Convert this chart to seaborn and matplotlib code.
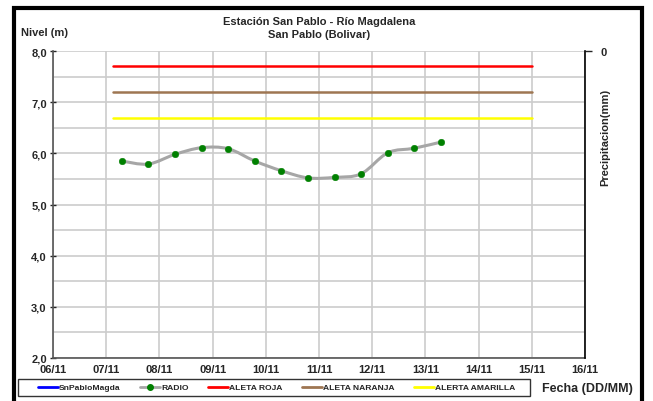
import matplotlib
matplotlib.use("Agg")
import matplotlib.pyplot as plt
import matplotlib.dates as mdates
from matplotlib.path import Path
from matplotlib.patches import PathPatch, Rectangle
from matplotlib.lines import Line2D
from matplotlib.ticker import FuncFormatter, MultipleLocator
import seaborn as sns
import pandas as pd
import numpy as np

# Datos
radio_fechas = pd.date_range("2010-11-07 07:00", periods=13, freq="12h")
radio_nivel = [5.85, 5.79, 5.98, 6.11, 6.09, 5.85, 5.66, 5.52, 5.53, 5.60, 6.01, 6.10, 6.22]

alerta_inicio = pd.Timestamp("2010-11-07 03:00")
alerta_fin = pd.Timestamp("2010-11-15 00:00")
alerta_nombres = ["ALETA ROJA", "ALETA NARANJA", "ALERTA AMARILLA"]
alerta_valores = [7.7, 7.2, 6.7]
alerta_colores = ["#ff0000", "#9e7652", "#ffff00"]

sns.set_style("white")
plt.rcParams["font.family"] = ["Liberation Sans", "DejaVu Sans"]
plt.rcParams["font.weight"] = "bold"

fig = plt.figure(figsize=(6.53, 4.02), dpi=100)
ax = fig.add_axes([53 / 653, 1 - 359 / 402, 532 / 653, 307 / 402])

# Rejilla
ax.yaxis.set_minor_locator(MultipleLocator(0.5))
ax.grid(True, which="both", axis="y", color="#cccccc", lw=1.2)
ax.grid(True, which="major", axis="x", color="#cccccc", lw=1.2)
ax.set_axisbelow(True)

# Niveles de alerta
df_alertas = pd.DataFrame({
    "fecha": [alerta_inicio, alerta_fin] * 3,
    "nivel": np.repeat(alerta_valores, 2),
    "serie": np.repeat(alerta_nombres, 2),
})
sns.lineplot(data=df_alertas, x="fecha", y="nivel", hue="serie",
             palette=dict(zip(alerta_nombres, alerta_colores)),
             lw=1.8, legend=False, ax=ax)

# Linea suavizada (estilo Excel) con curvas de Bezier
xs = mdates.date2num(radio_fechas)
ys = np.array(radio_nivel)
verts = [(xs[0], ys[0])]
codes = [Path.MOVETO]
n = len(xs)
for i in range(n - 1):
    x0, y0 = (xs[i - 1], ys[i - 1]) if i > 0 else (xs[i], ys[i])
    x3, y3 = (xs[i + 2], ys[i + 2]) if i + 2 < n else (xs[i + 1], ys[i + 1])
    c1 = (xs[i] + (xs[i + 1] - x0) / 6, ys[i] + (ys[i + 1] - y0) / 6)
    c2 = (xs[i + 1] - (x3 - xs[i]) / 6, ys[i + 1] - (y3 - ys[i]) / 6)
    verts += [c1, c2, (xs[i + 1], ys[i + 1])]
    codes += [Path.CURVE4] * 3
ax.add_patch(PathPatch(Path(verts, codes), fill=False, edgecolor="#a6a6a6", lw=2.2, zorder=3))

sns.scatterplot(x=radio_fechas, y=radio_nivel, color="#008000", s=22,
                edgecolor="#008000", zorder=4, ax=ax)

# Ejes
ax.set_xlim(pd.Timestamp("2010-11-06"), pd.Timestamp("2010-11-16"))
ax.set_ylim(2, 8)
ax.xaxis.set_major_locator(mdates.DayLocator())
ax.xaxis.set_major_formatter(mdates.DateFormatter("%d/%m"))
ax.yaxis.set_major_locator(MultipleLocator(1))
ax.yaxis.set_major_formatter(FuncFormatter(lambda v, p: f"{v:.1f}".replace(".", ",")))
ax.tick_params(axis="both", which="major", labelsize=8, length=5, width=1, direction="inout", pad=2)
ax.tick_params(axis="y", which="minor", length=0)
for lab in ax.get_xticklabels() + ax.get_yticklabels():
    lab.set_fontweight("bold")
ax.set_xlabel("")
ax.set_ylabel("")
for s in ["left", "bottom"]:
    ax.spines[s].set_color("#555555")
    ax.spines[s].set_linewidth(1.2)
ax.spines["top"].set_visible(False)
ax.spines["right"].set_visible(False)

# Eje secundario (precipitacion)
ax2 = ax.twinx()
ax2.set_ylim(1, 0)
ax2.set_yticks([0])
ax2.set_yticklabels(["0"], fontweight="bold", fontsize=8)
ax2.tick_params(axis="y", length=5, width=1, pad=6)
ax2.spines["right"].set_color("#000000")
ax2.spines["right"].set_linewidth(1.2)
for s in ["left", "bottom", "top"]:
    ax2.spines[s].set_visible(False)

# Textos
fig.text(319 / 653, 1 - 22 / 402, "Estación San Pablo - Río Magdalena", ha="center", va="center",
         fontsize=8, fontweight="bold")
fig.text(319 / 653, 1 - 35 / 402, "San Pablo (Bolivar)", ha="center", va="center",
         fontsize=8, fontweight="bold")
fig.text(21 / 653, 1 - 33 / 402, "Nivel (m)", ha="left", va="center", fontsize=8, fontweight="bold")
fig.text(605 / 653, 1 - 137 / 402, "Precipitacion(mm)", ha="center", va="center",
         rotation=90, fontsize=8, fontweight="bold")
fig.text(542 / 653, 1 - 389 / 402, "Fecha (DD/MM)", ha="left", va="center",
         fontsize=9, fontweight="bold")

# Leyenda (marco dibujado aparte)
handles = [
    Line2D([], [], color="#0000ff", lw=2),
    Line2D([], [], color="#a6a6a6", lw=2, marker="o", markersize=4,
           markerfacecolor="#008000", markeredgecolor="#008000"),
] + [Line2D([], [], color=c, lw=2) for c in alerta_colores]
labels = ["SnPabloMagda", "RADIO"] + alerta_nombres
leg = fig.legend(handles, labels, loc="center left", bbox_to_anchor=(38 / 653, 1 - 388.5 / 402),
                 ncol=5, fontsize=6.1, frameon=False,
                 handlelength=2.36, handletextpad=0.12, columnspacing=2.3,
                 borderpad=0, borderaxespad=0)
for t in leg.get_texts():
    t.set_fontweight("bold")
fig.patches.append(Rectangle((18 / 653, 1 - 397 / 402), 512 / 653, 17 / 402, transform=fig.transFigure,
                             fill=False, edgecolor="#333333", lw=1))

# Marco exterior
fig.patches.append(Rectangle((14 / 653, -0.05), 628 / 653, 1.05 - 9 / 402, transform=fig.transFigure,
                             fill=False, edgecolor="black", lw=3))

fig.savefig("out.png", dpi=100)
